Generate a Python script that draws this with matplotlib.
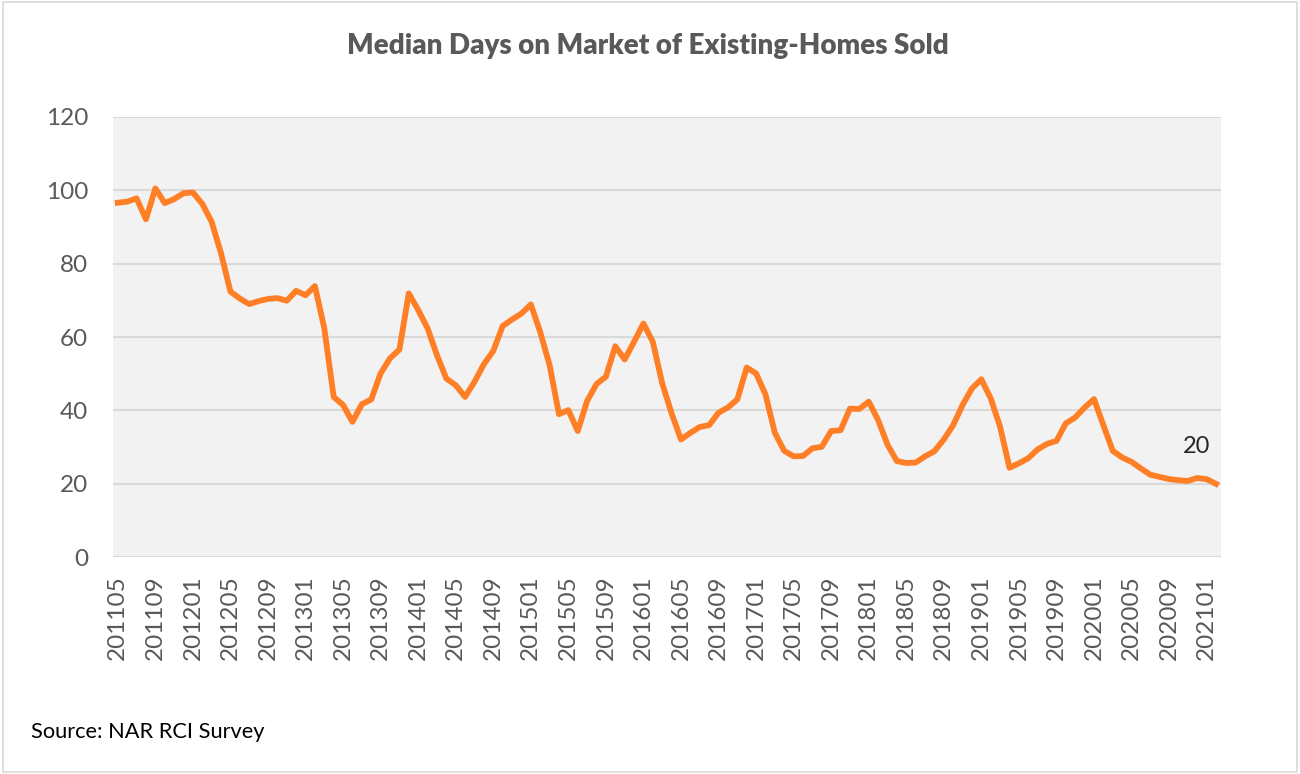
import pandas as pd
import matplotlib
matplotlib.use("Agg")
import matplotlib.pyplot as plt
from matplotlib.patches import Rectangle

plt.rcParams["font.family"] = ["Lato", "DejaVu Sans"]

# monthly categories, 201105 .. 202102
months = [p.strftime("%Y%m") for p in pd.period_range("2011-05", "2021-02", freq="M")]

days = [96.6, 96.9, 97.8, 92.1, 100.5, 96.5, 97.6, 99.2, 99.4, 96.3,
        91.4, 82.8, 72.4, 70.5, 69.0, 69.8, 70.4, 70.6, 69.9, 72.6,
        71.4, 73.9, 62.4, 43.7, 41.5, 36.9, 41.7, 43.0, 50.1, 54.2,
        56.6, 71.9, 67.4, 62.4, 55.1, 48.7, 46.9, 43.7, 47.8, 52.6,
        56.2, 63.0, 64.8, 66.4, 68.9, 61.4, 52.4, 39.0, 40.1, 34.4,
        42.6, 47.2, 49.2, 57.5, 53.9, 58.7, 63.7, 58.7, 47.4, 39.2,
        32.1, 33.9, 35.5, 36.0, 39.4, 40.8, 43.0, 51.7, 50.1, 44.4,
        33.9, 29.0, 27.5, 27.6, 29.7, 30.1, 34.4, 34.6, 40.5, 40.4,
        42.4, 37.4, 30.7, 26.2, 25.7, 25.8, 27.5, 28.9, 32.1, 36.0,
        41.5, 46.0, 48.5, 43.3, 35.5, 24.4, 25.6, 27.0, 29.4, 30.9,
        31.7, 36.5, 38.1, 40.8, 43.1, 36.0, 29.0, 27.2, 26.0, 24.2,
        22.5, 21.9, 21.3, 21.0, 20.8, 21.6, 21.3, 20.0]

tick_labels = ['201105', '201109', '201201', '201205', '201209', '201301',
               '201305', '201309', '201401', '201405', '201409', '201501',
               '201505', '201509', '201601', '201605', '201609', '201701',
               '201705', '201709', '201801', '201805', '201809', '201901',
               '201905', '201909', '202001', '202005', '202009', '202101']
y_ticks = [0, 20, 40, 60, 80, 100, 120]

grey = '#595959'

fig = plt.figure(figsize=(13, 7.74), dpi=100)
fig.patches.append(Rectangle((0.002, 0.003), 0.996, 0.994, transform=fig.transFigure,
                             fill=False, edgecolor='#D9D9D9', linewidth=1.2))
ax = fig.add_axes([0.087, 0.280, 0.852, 0.569])
ax.set_facecolor('#F2F2F2')

x = list(range(len(months)))
ax.plot(x, days, color='#FF7F27', linewidth=4.2, solid_joinstyle='round', zorder=5)

ax.annotate('%d' % round(days[-1]), xy=(x[-1], days[-1]), xytext=(-14, 27),
            textcoords='offset points', ha='center', va='center', fontsize=17, color='#262626')

ax.set_xlim(-0.5, len(months) - 0.5)
ax.set_ylim(0, 120)
ax.set_yticks(y_ticks)
ax.set_yticklabels([str(v) for v in y_ticks])
pos = [months.index(t) for t in tick_labels]
ax.set_xticks(pos)
ax.set_xticklabels(tick_labels, rotation=90)
ax.tick_params(axis='both', length=0, labelsize=17.5, labelcolor=grey)
ax.tick_params(axis='y', pad=18)
ax.tick_params(axis='x', pad=13)
ax.grid(axis='y', color='#D9D9D9', linewidth=1.5)
ax.set_axisbelow(True)
for s in ax.spines.values():
    s.set_visible(False)

fig.text(0.498, 0.941, 'Median Days on Market of Existing-Homes Sold', ha='center', va='center',
         fontsize=20, fontweight='heavy', color=grey)
fig.text(0.024, 0.054, 'Source: NAR RCI Survey', ha='left', va='center', fontsize=15.7, color='black')

fig.savefig('out.png', dpi=100)
